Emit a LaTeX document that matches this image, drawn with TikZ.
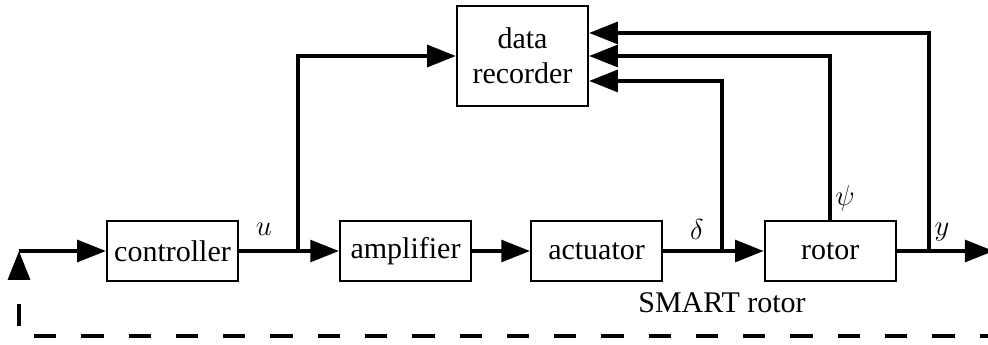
\documentclass[tikz,border=0pt]{standalone}
\usepackage{fontspec}
\setmainfont{Liberation Serif}
\usetikzlibrary{arrows.meta,positioning,calc}
\tikzset{
  >={Triangle[length=12pt,width=9pt]},
  block/.style={draw, line width=0.8pt, minimum width=54.6pt, minimum height=25pt, inner sep=2pt, align=center},
  sig/.style={->, line width=1.7pt},
  fb/.style={line width=1.7pt, dash pattern=on 9.3pt off 10.4pt, dash phase=9.3pt}
}
\begin{document}
\begin{tikzpicture}[x=0.4167pt, y=-0.4167pt, font=\fontsize{12.5}{14.5}\selectfont]
\useasboundingbox (0,0) rectangle (988,344);

% Forward path blocks
\node[block] (ctrl) at (172.5,251) {controller};
\node[block, right=41.7pt of ctrl] (amp) {amplifier};
\node[block, right=24.2pt of amp] (act) {actuator};
\node[block, right=42pt of act] (rot) {rotor};

% Recorder on top
\node[block, minimum height=41.7pt] (rec) at (522.5,56) {data\\recorder};

% Junctions and ends
\coordinate (in) at (19,251);
\coordinate[right=24.6pt of ctrl.east] (uj);
\coordinate[right=24.6pt of act.east] (dj);
\coordinate[right=13.3pt of rot.east] (yj);
\coordinate[right=40.4pt of rot.east] (out);
\coordinate (fbl) at (19,336);
\coordinate (fbr) at (988,336);

% Recorder input ports
\coordinate (rec1) at ($(rec.east)+(0,9.6pt)$);
\coordinate (rec3) at ($(rec.east)+(0,-10.4pt)$);

% Signal lines
\draw[sig] (in) -- (ctrl);
\draw[sig] (ctrl) -- (amp);
\draw[sig] (uj) |- (rec);
\draw[sig] (amp) -- (act);
\draw[sig] (act) -- (rot);
\draw[sig] (rot) -- (out);
\draw[sig] (dj) |- (rec3);
\draw[sig] (rot) |- (rec.east);
\draw[sig] (yj) |- (rec1);

% Feedback (dashed)
\draw[fb, <-] (in) -- (fbl) -- (fbr);

% Labels
\node (ulbl) at (264,229) {$u$};
\node (dlbl) at (697,229) {$\delta$};
\node (plbl) at (845,198) {$\psi$};
\node (ylbl) at (942,232) {$y$};
\node (smart) at (722,303) {SMART rotor};

\end{tikzpicture}
\end{document}
